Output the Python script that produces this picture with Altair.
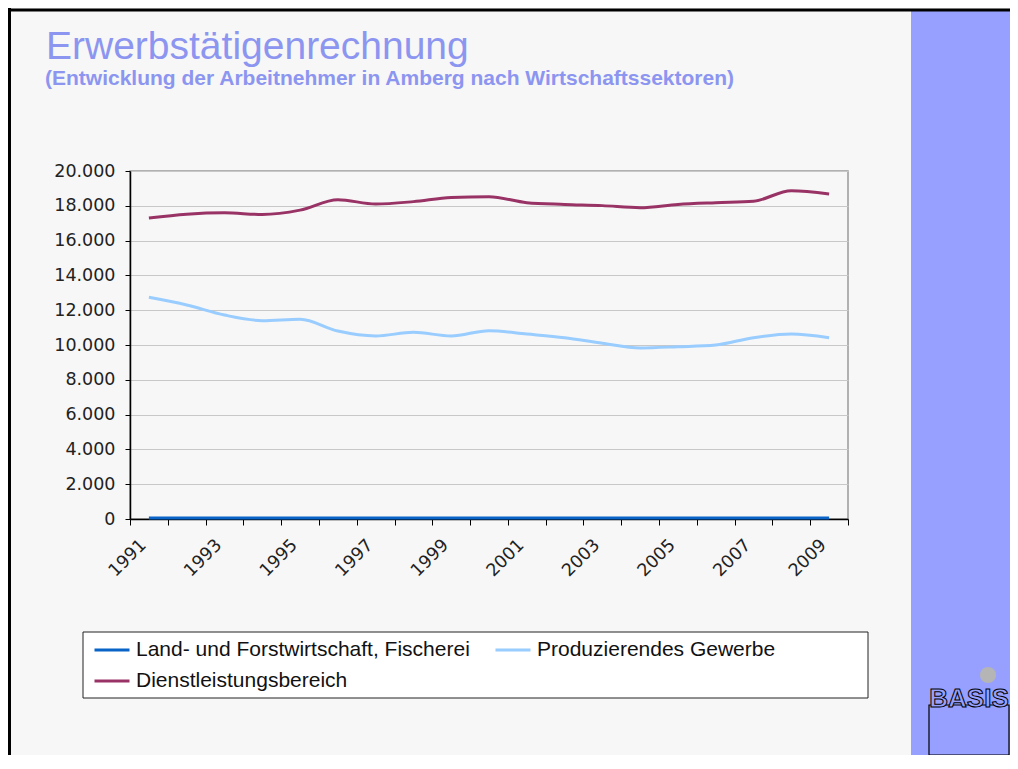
import altair as alt
import pandas as pd

# ---- data ----
years = [1991, 1992, 1993, 1994, 1995, 1996, 1997, 1998, 1999, 2000,
         2001, 2002, 2003, 2004, 2005, 2006, 2007, 2008, 2009]
series_names = ["Land- und Forstwirtschaft, Fischerei",
                "Produzierendes Gewerbe",
                "Dienstleistungsbereich"]
land = [60, 60, 60, 60, 60, 60, 60, 60, 60, 60,
        60, 60, 60, 60, 60, 60, 60, 60, 60]
prod = [12740, 12300, 11720, 11400, 11480, 10800, 10520, 10730, 10520, 10820,
        10630, 10420, 10100, 9830, 9900, 10000, 10420, 10630, 10420]
dienst = [17300, 17520, 17600, 17500, 17750, 18350, 18100, 18240, 18480, 18520,
          18180, 18080, 18010, 17890, 18080, 18180, 18260, 18870, 18680]
series_colors = ["#0a64c8", "#99ccff", "#993366"]
y_ticks = [0, 2000, 4000, 6000, 8000, 10000, 12000, 14000, 16000, 18000, 20000]
x_ticks = [1991, 1992, 1993, 1994, 1995, 1996, 1997, 1998, 1999, 2000,
           2001, 2002, 2003, 2004, 2005, 2006, 2007, 2008, 2009, 2010]

title_text = "Erwerbstätigenrechnung"
subtitle_text = "(Entwicklung der Arbeitnehmer in Amberg nach Wirtschaftssektoren)"
logo_text = "BASIS"

rows = []
for name, vals in zip(series_names, [land, prod, dienst]):
    for yr, v in zip(years, vals):
        rows.append({"Jahr": yr, "pos": yr + 0.5, "Wert": v, "Sektor": name})
df = pd.DataFrame(rows)

SIDEBAR = "#97a0ff"
TITLE_COLOR = "#8c95f0"
one = alt.Data(values=[{"k": 0}])

lines = alt.Chart(df).mark_line(strokeWidth=3, interpolate="monotone").encode(
    x=alt.X("pos:Q", title=None,
            scale=alt.Scale(domain=[1991, 2010], nice=False, zero=False),
            axis=alt.Axis(values=x_ticks, grid=False,
                          labelExpr="(datum.value % 2 == 1 && datum.value < 2010) ? toString(datum.value) : ''",
                          labelAngle=315, labelAlign="right", labelBaseline="middle",
                          labelOffset=13, labelPadding=17, labelOverlap=False, labelFlush=False,
                          labelFont="DejaVu Sans", labelFontSize=17.5, labelColor="#222222",
                          tickSize=6, tickColor="black", domainColor="black", domainWidth=1.5)),
    y=alt.Y("Wert:Q", title=None,
            scale=alt.Scale(domain=[0, 20000], nice=False),
            axis=alt.Axis(values=y_ticks,
                          labelExpr="replace(format(datum.value, ','), ',', '.')",
                          labelFont="DejaVu Sans", labelFontSize=17.5, labelColor="#222222",
                          labelPadding=10, tickSize=5, tickColor="black",
                          domainColor="black", domainWidth=1.5,
                          gridColor="#c8c8c8", gridWidth=1)),
    color=alt.Color("Sektor:N",
                    scale=alt.Scale(domain=series_names, range=series_colors),
                    legend=alt.Legend(orient="none", legendX=-37, legendY=460,
                                      direction="horizontal", columns=2, title=None,
                                      symbolType="stroke", symbolSize=1225,
                                      symbolStrokeWidth=3, labelFontSize=21,
                                      labelFont="Liberation Sans", labelColor="#111111",
                                      labelOffset=5, columnPadding=19, rowPadding=2,
                                      labelLimit=600, padding=0)),
)

sidebar = alt.Chart(one).mark_rect(color=SIDEBAR).encode(
    x=alt.value(781), x2=alt.value(900), y=alt.value(-160), y2=alt.value(600))
border_top = alt.Chart(one).mark_rule(color="black", strokeWidth=3).encode(
    x=alt.value(-125), x2=alt.value(900), y=alt.value(-161))
border_left = alt.Chart(one).mark_rule(color="black", strokeWidth=3).encode(
    x=alt.value(-120.5), y=alt.value(-163), y2=alt.value(600))
legend_box = alt.Chart(one).mark_rect(fill="white", stroke="#222222", strokeWidth=1).encode(
    x=alt.value(-47), x2=alt.value(738), y=alt.value(461), y2=alt.value(527))
title = alt.Chart(one).mark_text(align="left", baseline="alphabetic", font="Liberation Sans",
                                 fontSize=39, color=TITLE_COLOR).encode(
    x=alt.value(-84), y=alt.value(-112), text=alt.value(title_text))
subtitle = alt.Chart(one).mark_text(align="left", baseline="alphabetic", font="Liberation Sans",
                                    fontSize=21, fontWeight="bold", color=TITLE_COLOR).encode(
    x=alt.value(-85), y=alt.value(-86), text=alt.value(subtitle_text))
logo_box = alt.Chart(one).mark_rect(fill=SIDEBAR, stroke="black", strokeWidth=1.2).encode(
    x=alt.value(799), x2=alt.value(879), y=alt.value(534), y2=alt.value(584))
logo_word = alt.Chart(one).mark_text(align="center", baseline="alphabetic", font="Liberation Sans",
                                     fontSize=26, fontWeight="bold", fill=SIDEBAR,
                                     stroke="black", strokeWidth=1).encode(
    x=alt.value(839), y=alt.value(536), text=alt.value(logo_text))
logo_dot = alt.Chart(one).mark_circle(color="#b5b5b5", size=260, opacity=1).encode(
    x=alt.value(858), y=alt.value(504))

chart = alt.layer(
    sidebar, border_top, border_left, legend_box, title, subtitle,
    logo_box, logo_word, logo_dot, lines
).properties(
    width=718, height=348,
    autosize=alt.AutoSizeParams(type="none"),
    padding={"left": 122, "top": 163, "right": 162, "bottom": 236},
).configure(
    background="#f7f7f7",
).configure_view(
    stroke="#9a9a9a", strokeWidth=1.5, fill="#f7f7f7"
)

chart.save("out.html", embed_options={"renderer": "svg", "actions": False})
